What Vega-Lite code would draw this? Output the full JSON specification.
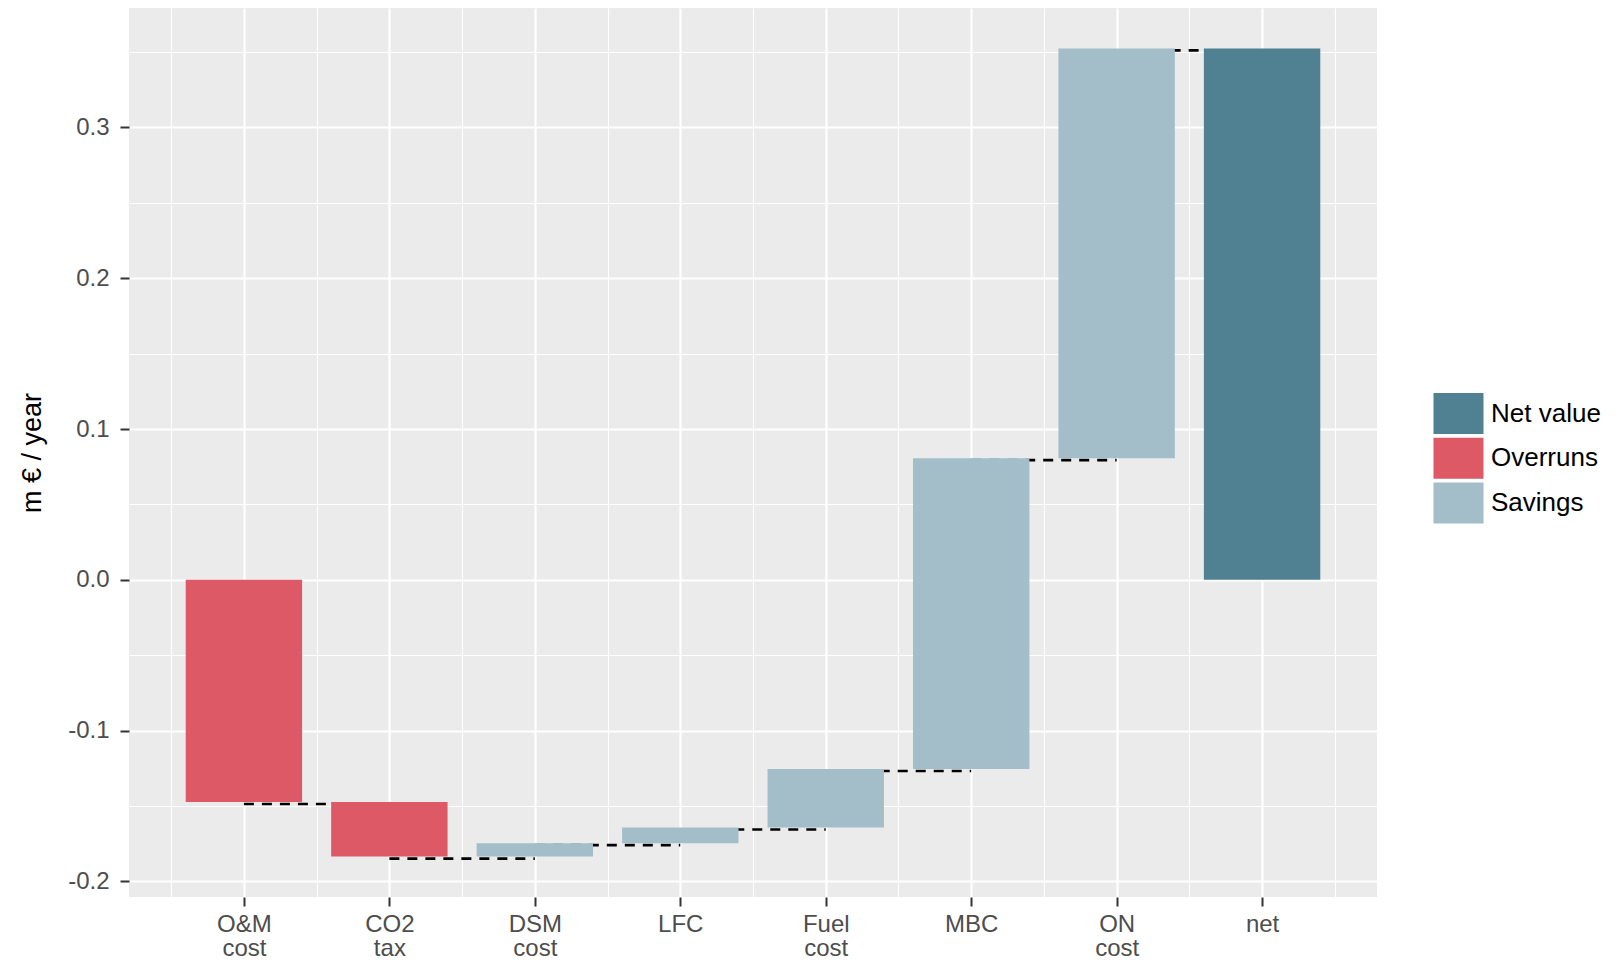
{
  "$schema": "https://vega.github.io/schema/vega-lite/v6.json",
  "width": 1248,
  "height": 889,
  "autosize": {"type": "none"},
  "padding": {"left": 129, "top": 8, "right": 243, "bottom": 64},
  "background": "white",
  "config": {
    "view": {"stroke": null, "fill": "#EBEBEB"},
    "font": "Liberation Sans"
  },
  "data": {
    "values": [
      {"item": "O&M cost", "idx": 1, "next_idx": 2, "start": 0, "end": -0.1473, "type": "Overruns"},
      {"item": "CO2 tax", "idx": 2, "next_idx": 3, "start": -0.1473, "end": -0.1835, "type": "Overruns"},
      {"item": "DSM cost", "idx": 3, "next_idx": 4, "start": -0.1835, "end": -0.1746, "type": "Savings"},
      {"item": "LFC", "idx": 4, "next_idx": 5, "start": -0.1746, "end": -0.1642, "type": "Savings"},
      {"item": "Fuel cost", "idx": 5, "next_idx": 6, "start": -0.1642, "end": -0.1254, "type": "Savings"},
      {"item": "MBC", "idx": 6, "next_idx": 7, "start": -0.1254, "end": 0.0807, "type": "Savings"},
      {"item": "ON cost", "idx": 7, "next_idx": 8, "start": 0.0807, "end": 0.3524, "type": "Savings"},
      {"item": "net", "idx": 8, "next_idx": null, "start": 0, "end": 0.3524, "type": "Net value"}
    ]
  },
  "encoding": {
    "x": {
      "field": "idx",
      "type": "quantitative",
      "scale": {"domain": [0.21, 8.79], "nice": false, "zero": false, "padding": 0},
      "axis": {
        "title": null,
        "domain": false,
        "values": [0.5, 1, 1.5, 2, 2.5, 3, 3.5, 4, 4.5, 5, 5.5, 6, 6.5, 7, 7.5, 8, 8.5],
        "grid": true,
        "gridColor": "#FFFFFF",
        "gridWidth": {"condition": {"test": "datum.value % 1 === 0", "value": 2.2}, "value": 1.1},
        "ticks": true,
        "tickSize": 9,
        "tickWidth": 2,
        "tickColor": "#333333",
        "tickOpacity": {"condition": {"test": "datum.value % 1 === 0", "value": 1}, "value": 0},
        "labelExpr": "datum.value === 1 ? ['O&M','cost'] : datum.value === 2 ? ['CO2','tax'] : datum.value === 3 ? ['DSM','cost'] : datum.value === 4 ? 'LFC' : datum.value === 5 ? ['Fuel','cost'] : datum.value === 6 ? 'MBC' : datum.value === 7 ? ['ON','cost'] : datum.value === 8 ? 'net' : ''",
        "labelFontSize": 24,
        "labelColor": "#4D4D4D",
        "labelPadding": 6,
        "labelLineHeight": 24,
        "labelBaseline": "top",
        "labelFlush": false,
        "labelOverlap": false
      }
    }
  },
  "layer": [
    {
      "transform": [{"filter": "datum.next_idx != null"}],
      "mark": {"type": "rule", "color": "#000000", "strokeWidth": 2.6, "strokeDash": [10, 8], "yOffset": 2},
      "encoding": {
        "x2": {"field": "next_idx"},
        "y": {"field": "end", "type": "quantitative"}
      }
    },
    {
      "mark": {"type": "bar", "width": 116.4},
      "encoding": {
        "y": {
          "field": "start",
          "type": "quantitative",
          "scale": {"domain": [-0.2103, 0.3792], "nice": false, "zero": false},
          "axis": {
            "title": "m € / year",
            "titleFontSize": 27,
            "titleFontWeight": "normal",
            "titleColor": "#000000",
            "titleAngle": -90,
            "titleX": -97,
            "titleY": 444.5,
            "titleAlign": "center",
            "titleBaseline": "middle",
            "domain": false,
            "values": [-0.2, -0.15, -0.1, -0.05, 0, 0.05, 0.1, 0.15, 0.2, 0.25, 0.3, 0.35],
            "grid": true,
            "gridColor": "#FFFFFF",
            "gridWidth": {"condition": {"test": "abs(datum.value*10 - round(datum.value*10)) < 0.001", "value": 2.2}, "value": 1.1},
            "tickSize": 9,
            "tickWidth": 2,
            "tickColor": "#333333",
            "tickOpacity": {"condition": {"test": "abs(datum.value*10 - round(datum.value*10)) < 0.001", "value": 1}, "value": 0},
            "labelExpr": "abs(datum.value*10 - round(datum.value*10)) < 0.001 ? replace(format(datum.value, '.1f'), '−', '-') : ''",
            "labelFontSize": 24,
            "labelColor": "#4D4D4D",
            "labelPadding": 11,
            "labelFlush": false,
            "labelOverlap": false
          }
        },
        "y2": {"field": "end"},
        "color": {
          "field": "type",
          "type": "nominal",
          "scale": {"domain": ["Net value", "Overruns", "Savings"], "range": ["#4F8193", "#DD5966", "#A3BEC9"]},
          "legend": {
            "title": null,
            "orient": "none",
            "legendX": 1309,
            "legendY": 385,
            "padding": 0,
            "symbolType": "M-1.22,-1H1.22V1H-1.22Z",
            "symbolSize": 1681,
            "symbolStrokeWidth": 0,
            "symbolOpacity": 1,
            "rowPadding": 3.8,
            "labelOffset": 12,
            "labelFontSize": 26,
            "labelColor": "#000000",
            "labelFont": "Liberation Sans"
          }
        }
      }
    }
  ]
}
